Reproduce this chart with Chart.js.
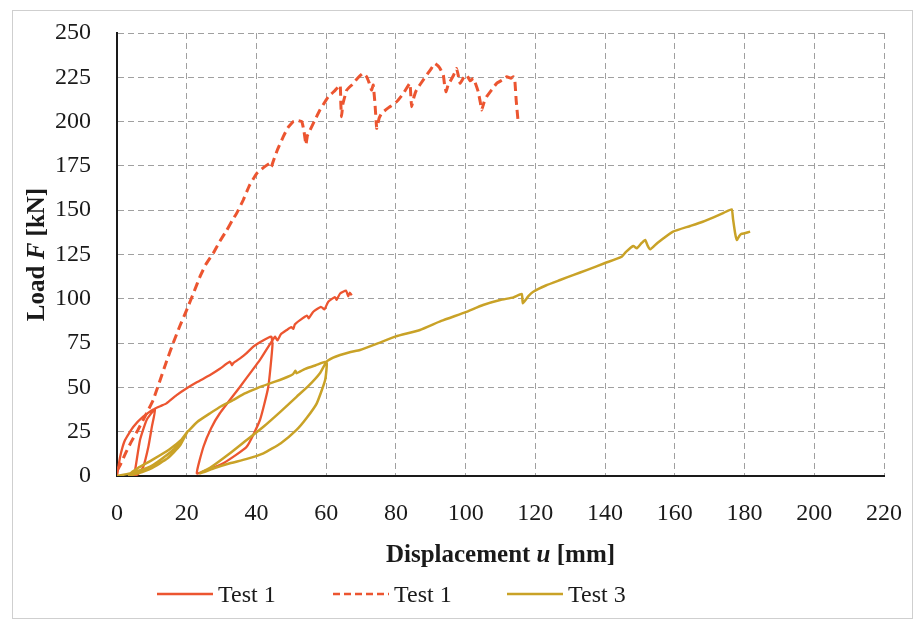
<!DOCTYPE html>
<html>
<head>
<meta charset="utf-8">
<script src="https://cdn.jsdelivr.net/npm/chart.js@4.4.1/dist/chart.umd.min.js"></script>
<style>
  html, body { margin: 0; padding: 0; background: #ffffff; }
  #wrap { position: relative; width: 915px; height: 621px; }
  canvas { display: block; }
</style>
</head>
<body>
<div id="wrap"><canvas id="c" width="915" height="621"></canvas></div>
<script>
// ---- Data ----
const xTicks = [0, 20, 40, 60, 80, 100, 120, 140, 160, 180, 200, 220];
const yTicks = [0, 25, 50, 75, 100, 125, 150, 175, 200, 225, 250];
const seriesNames = ['Test 1', 'Test 1', 'Test 3'];

// Test 1 (solid) – cyclic test
const t1x = [0, 0.9, 2.3, 4.7, 7.5, 10.9, 10.0, 9.0, 7.5, 6.0, 4.7, 5.2, 6.6, 8.5, 10.9,
  12.5, 14.2, 17, 20, 23, 26.7, 29.5, 32.4, 33.0, 33.4, 35.3, 37, 39.1, 41, 43.5, 44.3, 44.6,
  43.4, 41, 37.2, 30.5, 26, 22.9, 24.8, 27, 29.5, 35.3, 41, 45.3,
  46, 47, 48.7, 50, 50.6, 51, 52.5, 54.5, 55, 56.3, 58.5, 59.5, 60.6, 62.5, 63, 64, 65.7, 66.3, 66.8, 67.3];
const t1y = [0, 10.9, 20.3, 27.8, 33.5, 38, 27.8, 16.5, 5, 1, 0, 3.4, 20.3, 31.6, 38,
  39.5, 41, 45.5, 49.5, 53, 57, 60.5, 64.5, 62.5, 63.8, 66.4, 69, 73, 75.5, 78.2, 78.5, 74,
  50.4, 31.6, 16.5, 7.2, 3.5, 1.5, 16.5, 27, 35.4, 50.4, 65.5, 78.6,
  76.5, 80, 82.4, 84, 83, 85.5, 88, 90.5, 89, 92.7, 95.5, 94, 98.4, 101, 99.5, 103, 104.6, 101.5, 103.5, 102];

// Test 1 (dashed) – monotonic test
const t1dx = [0, 1, 2.5, 4, 6, 8, 10.4, 12, 14, 16.1, 18, 20, 22, 23.8, 25.5, 27.6, 29.5, 31.5, 33, 34.3,
  36.2, 38, 40.1, 42, 43.9, 44.3, 44.8, 46, 47.7, 49, 50.6, 52, 53, 53.6, 54.2, 54.6, 55.4, 56.8, 58.2,
  60.6, 62.5, 64, 64.2, 64.4, 64.8, 65.9, 67.5, 69, 70.6, 71.6, 72.3, 73, 73.5, 74, 74.5, 75.2, 75.9,
  78, 80.2, 82, 84, 84.3, 84.5, 85.2, 85.9, 88, 90, 91.2, 92.5, 93.6, 94, 94.4, 95, 95.5, 96.5, 97.4,
  98, 98.4, 99.3, 100.3, 101.3, 102.2, 103, 103.6, 104.2, 104.6, 105.3, 106, 107.5, 108.9, 110.5,
  111.8, 113, 113.7, 114.1, 114.5, 115.1];
const t1dy = [3, 6.5, 13, 19, 26, 33.5, 43, 52, 63.5, 75, 84.5, 93.7, 103.5, 112.5, 119.5, 125.7, 132.5, 138.8, 144, 148.2,
  155.7, 164, 170.8, 174, 176.5, 174.6, 177.5, 184, 191.5, 196.5, 200, 200.5, 200, 195, 187, 192, 195.3, 201, 206.5,
  214, 217.5, 220.6, 210, 202.8, 210, 217.8, 221, 224.5, 227.3, 225.3, 222, 217.8, 220.6, 210, 196.2, 202, 204.7,
  208, 211.2, 215.5, 221.6, 214, 208.4, 214, 217.8, 224, 229.5, 232.8, 230.5, 226.3, 220, 216.9, 221, 222.5, 226, 230,
  225, 221.6, 224.4, 226.3, 223, 224.4, 220.5, 216.9, 211, 206.5, 211, 214, 218, 221.6, 223.5,
  225.3, 224.5, 225.3, 223.5, 212, 199];

// Test 3 (solid) – cyclic test
const t3x = [0, 3.7, 9.5, 14.3, 18.1, 20.2, 18.5, 15, 10, 6, 4.5, 3.5, 6, 10, 14.5, 18, 20.2,
  20.5, 23, 26.7, 30, 33.4, 36.5, 40.1, 43.5, 46.7, 49, 50.5, 51.2, 51.5, 54, 57, 60.1,
  59.7, 57.3, 54.5, 51.5, 47, 42, 37, 32.4, 28, 23.8, 27, 32.4, 37, 42, 47, 51.5, 55, 58.2, 60.1,
  62, 64, 67, 69.7, 75, 80, 86.9, 93, 100, 105, 109.9, 113.7, 116.1, 116.4, 118, 119.4, 123, 127.1,
  131, 134.7, 140, 144.8, 146, 148.1, 149.1, 150.5, 151.5, 152.2, 152.9, 155, 159.5, 164.4, 168,
  171.1, 174, 176.3, 176.7, 177.3, 177.8, 178.5, 179.1, 180, 181.6];
const t3y = [0, 1.5, 5.3, 11.9, 18.5, 25, 20.5, 15, 9, 4.5, 2.5, 0.5, 1.5, 4.5, 10, 17, 25,
  25.5, 30.5, 35.4, 39.5, 42.9, 46.5, 49.5, 52, 54.2, 56, 57.5, 59.4, 58, 60.5, 62.5, 64.5,
  54.2, 41, 33, 26, 18.5, 12.8, 9.5, 7.2, 4.5, 1.5, 5, 12.8, 20, 27.8, 36.5, 44.7, 51, 58, 64.5,
  66.8, 68.3, 70, 71.1, 75, 78.8, 82.4, 87.5, 92.5, 96.5, 99.3, 100.8, 102.7, 97.5, 101.5, 104, 107.5, 110.6,
  113.5, 116.2, 120.2, 123.8, 126.5, 129.8, 128.5, 131.5, 133.2, 130, 127.9, 131.5, 137.9, 141.1, 143.5,
  146, 148.5, 150.5, 145, 137, 133.2, 135.5, 136.6, 137, 137.9];

const RED = '#EC5530';
const GOLD = '#C9A227';
const FONT = '"Liberation Serif", "Times New Roman", serif';

function pts(xs, ys) { return xs.map((x, i) => ({ x: x, y: ys[i] })); }

// Custom decorations: frame, axis titles (with italic symbols), legend
const deco = {
  id: 'deco',
  beforeDraw(chart) {
    const ctx = chart.ctx;
    ctx.save();
    ctx.fillStyle = '#ffffff';
    ctx.fillRect(0, 0, chart.width, chart.height);
    ctx.strokeStyle = '#cfcfcf';
    ctx.lineWidth = 1;
    ctx.strokeRect(12.5, 10.5, 900, 608);
    ctx.restore();
  },
  afterDraw(chart) {
    const ctx = chart.ctx;
    const a = chart.chartArea;
    ctx.save();
    ctx.fillStyle = '#1a1a1a';
    ctx.textBaseline = 'alphabetic';
    function mixed(parts, cx, cy) {
      let w = 0;
      parts.forEach(p => { ctx.font = p[1]; w += ctx.measureText(p[0]).width; });
      let x = cx - w / 2;
      parts.forEach(p => { ctx.font = p[1]; ctx.fillText(p[0], x, cy); x += ctx.measureText(p[0]).width; });
    }
    const B = 'bold 25px ' + FONT, BI = 'italic bold 25px ' + FONT;
    // x title
    mixed([['Displacement ', B], ['u', BI], [' [mm]', B]], (a.left + a.right) / 2, 562);
    // y title
    ctx.save();
    ctx.translate(44, (a.top + a.bottom) / 2);
    ctx.rotate(-Math.PI / 2);
    mixed([['Load ', B], ['F', BI], [' [kN]', B]], 0, 0);
    ctx.restore();
    // legend
    const ly = 594;
    const items = [
      { x0: 157, color: RED, dash: [] , w: 2.5},
      { x0: 333, color: RED, dash: [7, 4], w: 2.5 },
      { x0: 507, color: GOLD, dash: [], w: 2.5 }
    ];
    items.forEach((it, i) => {
      ctx.save();
      ctx.strokeStyle = it.color;
      ctx.lineWidth = it.w;
      ctx.setLineDash(it.dash);
      ctx.beginPath();
      ctx.moveTo(it.x0, ly);
      ctx.lineTo(it.x0 + 56, ly);
      ctx.stroke();
      ctx.restore();
      ctx.font = '24px ' + FONT;
      ctx.fillStyle = '#1a1a1a';
      ctx.fillText(seriesNames[i], it.x0 + 61, ly + 8);
    });
    ctx.restore();
  }
};

new Chart(document.getElementById('c'), {
  type: 'scatter',
  data: {
    datasets: [
      { label: seriesNames[2], data: pts(t3x, t3y), showLine: true, borderColor: GOLD, backgroundColor: GOLD,
        borderWidth: 2.5, pointRadius: 0, tension: 0.15, order: 0 },
      { label: seriesNames[0], data: pts(t1x, t1y), showLine: true, borderColor: RED, backgroundColor: RED,
        borderWidth: 2.3, pointRadius: 0, tension: 0.15, order: 1 },
      { label: seriesNames[1], data: pts(t1dx, t1dy), showLine: true, borderColor: RED, backgroundColor: RED,
        borderWidth: 3, borderDash: [9, 5], pointRadius: 0, tension: 0.1, order: 2 }
    ]
  },
  options: {
    responsive: false,
    animation: false,
    events: [],
    layout: { padding: { top: 33, right: 31, left: 0, bottom: 0 } },
    plugins: { legend: { display: false }, tooltip: { enabled: false } },
    scales: {
      x: {
        type: 'linear', min: 0, max: 220,
        afterBuildTicks: s => { s.ticks = xTicks.map(v => ({ value: v })); },
        afterFit: s => { s.height = 145; s.paddingLeft = 0; s.paddingRight = 0; },
        ticks: { font: { family: FONT, size: 24 }, color: '#1a1a1a', padding: 23, maxRotation: 0 },
        grid: { color: '#a0a0a0', lineWidth: 1, drawTicks: false },
        border: { color: '#1a1a1a', width: 2, dash: [6, 4] }
      },
      y: {
        type: 'linear', min: 0, max: 250,
        afterBuildTicks: s => { s.ticks = yTicks.map(v => ({ value: v })); },
        afterFit: s => { s.width = 117; s.paddingTop = 0; s.paddingBottom = 0; },
        ticks: { font: { family: FONT, size: 24 }, color: '#1a1a1a', padding: 26 },
        grid: { color: '#a0a0a0', lineWidth: 1, drawTicks: false },
        border: { color: '#1a1a1a', width: 2, dash: [6, 4] }
      }
    }
  },
  plugins: [deco]
});
</script>
</body>
</html>
